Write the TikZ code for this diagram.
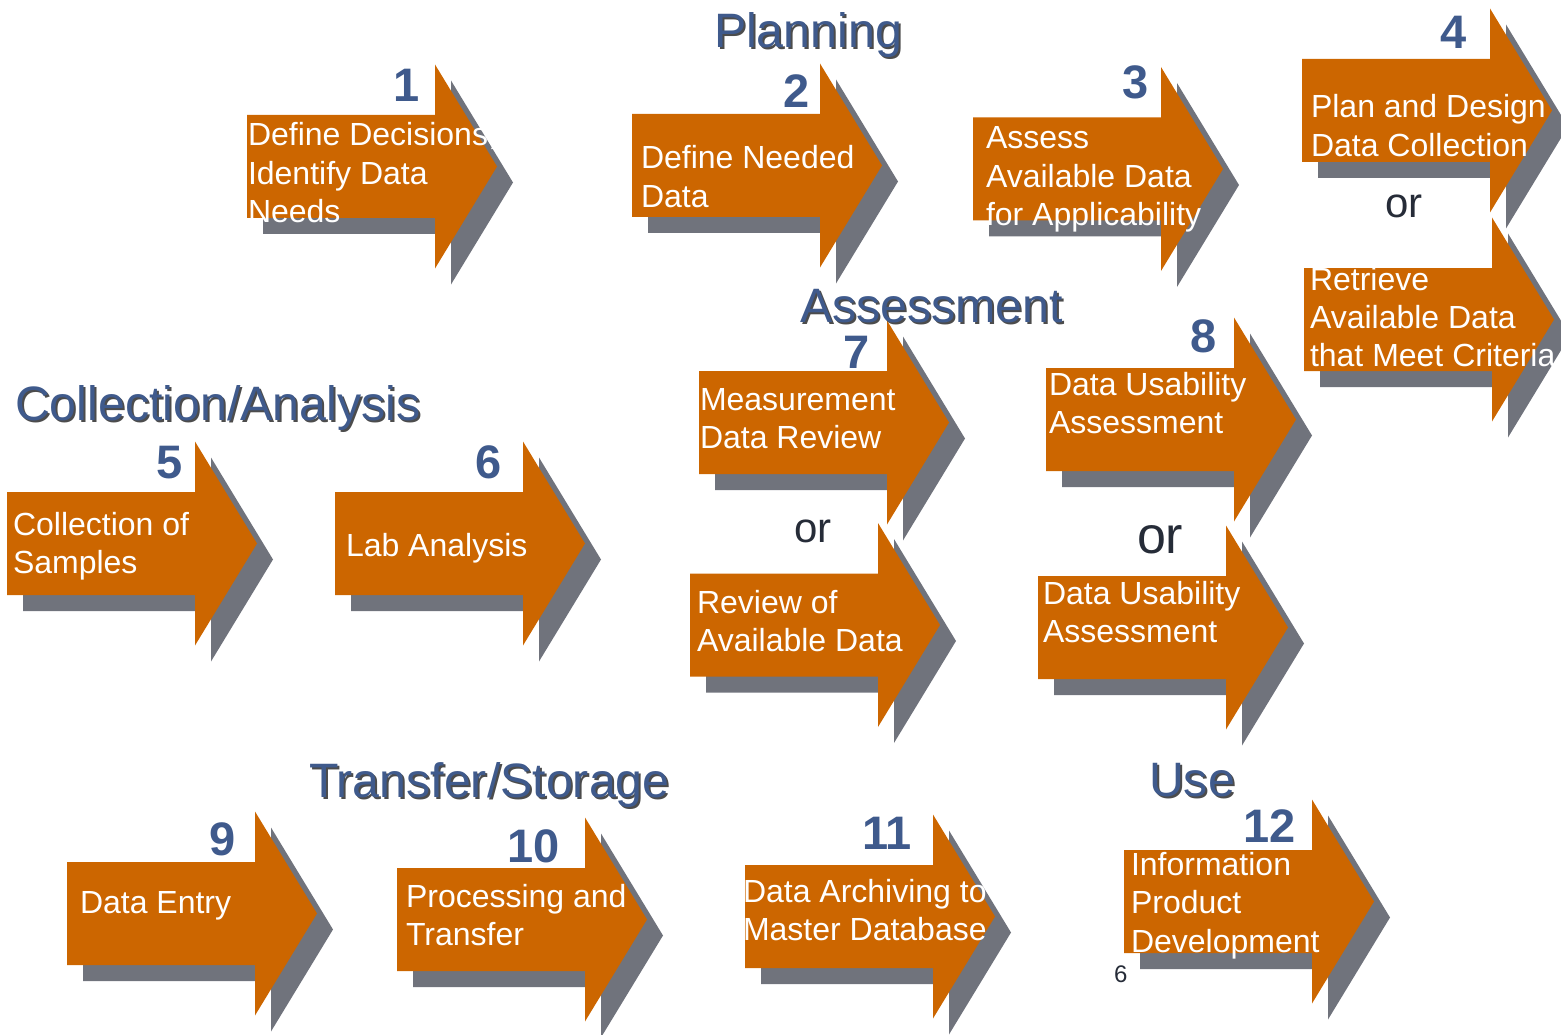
\documentclass[tikz,border=0pt]{standalone}
\usepackage{fontspec}
\setmainfont{Liberation Sans}
\usetikzlibrary{positioning}
\definecolor{arroworange}{RGB}{204,102,0}
\definecolor{arrowshadow}{RGB}{112,115,124}
\definecolor{titleblue}{RGB}{63,90,140}
\definecolor{ordark}{RGB}{38,44,56}
\newcommand{\steplines}[1]{\begin{tabular}[t]{@{}l@{}}#1\end{tabular}}
\tikzset{
	every node/.style={inner sep=0pt, outer sep=0pt},
	pics/procarrow/.style={code={
		\fill [arrowshadow] (16,-35.5) -- (204,-35.5) -- (204,-86) -- (266,16) -- (204,118) -- (204,67.5) -- (16,67.5) -- cycle;
		\fill [arroworange] (0,-51.5) -- (188,-51.5) -- (188,-102) -- (250,0) -- (188,102) -- (188,51.5) -- (0,51.5) -- cycle;
	}},
	arrowtext/.style={anchor=base west, text=white, font=\fontsize{32}{38.5}\selectfont},
	numlabel/.style={anchor=base east, text=titleblue, font=\fontsize{47}{50}\selectfont\bfseries},
	phasetitle/.style={anchor=base west, text=titleblue, font=\fontsize{48.3}{50}\selectfont},
	phaseshadow/.style={anchor=base west, text=black, opacity=0.7, font=\fontsize{48.3}{50}\selectfont},
	ortext/.style={anchor=base west, text=ordark},
}

\begin{document}
\begin{tikzpicture}[x=1pt,y=-1pt]
			\useasboundingbox (0,0) rectangle (1561,1035);
			
			% planning arrows.....................
			\pic at (247,166.5) {procarrow};
			\pic at (632,165.5) {procarrow};
			\pic at (973,169) {procarrow};
			\pic at (1302,110.5) {procarrow};
			\pic at (1304,319.5) {procarrow};
			
			% collection/analysis arrows..........
			\pic at (7,543.5) {procarrow};
			\pic at (335,543.5) {procarrow};
			
			% assessment arrows...................
			\pic at (699,422.5) {procarrow};
			\pic at (690,625) {procarrow};
			\pic at (1046,419.5) {procarrow};
			\pic at (1038,627.5) {procarrow};
			
			% transfer/storage and use arrows.....
			\pic at (67,913.5) {procarrow};
			\pic at (397,919.5) {procarrow};
			\pic at (745,916.5) {procarrow};
			\pic at (1124,901.5) {procarrow};
			
			% step texts..........................
			\node [arrowtext] (t1) at (248,146) {\steplines{Define Decisions,\\Identify Data\\Needs}};
			\node [arrowtext] (t2) at (641,169) {\steplines{Define Needed\\Data}};
			\node [arrowtext] (t3) at (986,149) {\steplines{Assess\\Available Data\\for Applicability}};
			\node [arrowtext] (t4) at (1311,118) {\steplines{Plan and Design\\Data Collection}};
			\node [arrowtext] (t4b) at (1310,290) {\steplines{Retrieve\\Available Data\\that Meet Criteria}};
			\node [arrowtext] (t5) at (13,535) {\steplines{Collection of\\Samples}};
			\node [arrowtext] (t6) at (346,556) {Lab Analysis};
			\node [arrowtext] (t7) at (700,410) {\steplines{Measurement\\Data Review}};
			\node [arrowtext] (t7b) at (697,613) {\steplines{Review of\\Available Data}};
			\node [arrowtext] (t8) at (1049,395) {\steplines{Data Usability\\Assessment}};
			\node [arrowtext] (t8b) at (1043,604) {\steplines{Data Usability\\Assessment}};
			\node [arrowtext] (t9) at (80,913) {Data Entry};
			\node [arrowtext] (t10) at (406,907) {\steplines{Processing and\\Transfer}};
			\node [arrowtext] (t11) at (743,902) {\steplines{Data Archiving to\\Master Database}};
			\node [arrowtext] (t12) at (1131,875) {\steplines{Information\\Product\\Development}};
			
			% step numbers........................
			\node [numlabel] (n1) at (420,102) {1};
			\node [numlabel] (n2) at (810,108) {2};
			\node [numlabel] (n3) at (1149,99) {3};
			\node [numlabel] (n4) at (1467,49) {4};
			\node [numlabel] (n5) at (183,478) {5};
			\node [numlabel] (n6) at (502,478) {6};
			\node [numlabel] (n7) at (870,368) {7};
			\node [numlabel] (n8) at (1217,352) {8};
			\node [numlabel] (n9) at (236,855) {9};
			\node [numlabel] (n10) at (560,862) {10};
			\node [numlabel] (n11) at (912,849) {11};
			\node [numlabel] (n12) at (1296,842) {12};
			
			% or..................................
			\node [ortext, font=\fontsize{42}{44}\selectfont] (or4) at (1385,218) {or};
			\node [ortext, font=\fontsize{42}{44}\selectfont] (or7) at (794,542) {or};
			\node [ortext, font=\fontsize{52}{54}\selectfont] (or8) at (1137,553) {or};
			
			% phase titles........................
			\node [phaseshadow] (plan-sh) at (716,50) {Planning};
			\node [phasetitle] (plan) at (714,48) {Planning};
			\node [phaseshadow] (assess-sh) at (802,324) {Assessment};
			\node [phasetitle] (assess) at (800,322) {Assessment};
			\node [phaseshadow] (coll-sh) at (17,422) {Collection/Analysis};
			\node [phasetitle] (coll) at (15,420) {Collection/Analysis};
			\node [phaseshadow] (trans-sh) at (311,799) {Transfer/Storage};
			\node [phasetitle] (trans) at (309,797) {Transfer/Storage};
			\node [phaseshadow] (use-sh) at (1151,798) {Use};
			\node [phasetitle] (use) at (1149,796) {Use};
			
			% page number.........................
			\node [ortext, font=\fontsize{24}{26}\selectfont] (page) at (1114,982) {6};
		\end{tikzpicture}
\end{document}
